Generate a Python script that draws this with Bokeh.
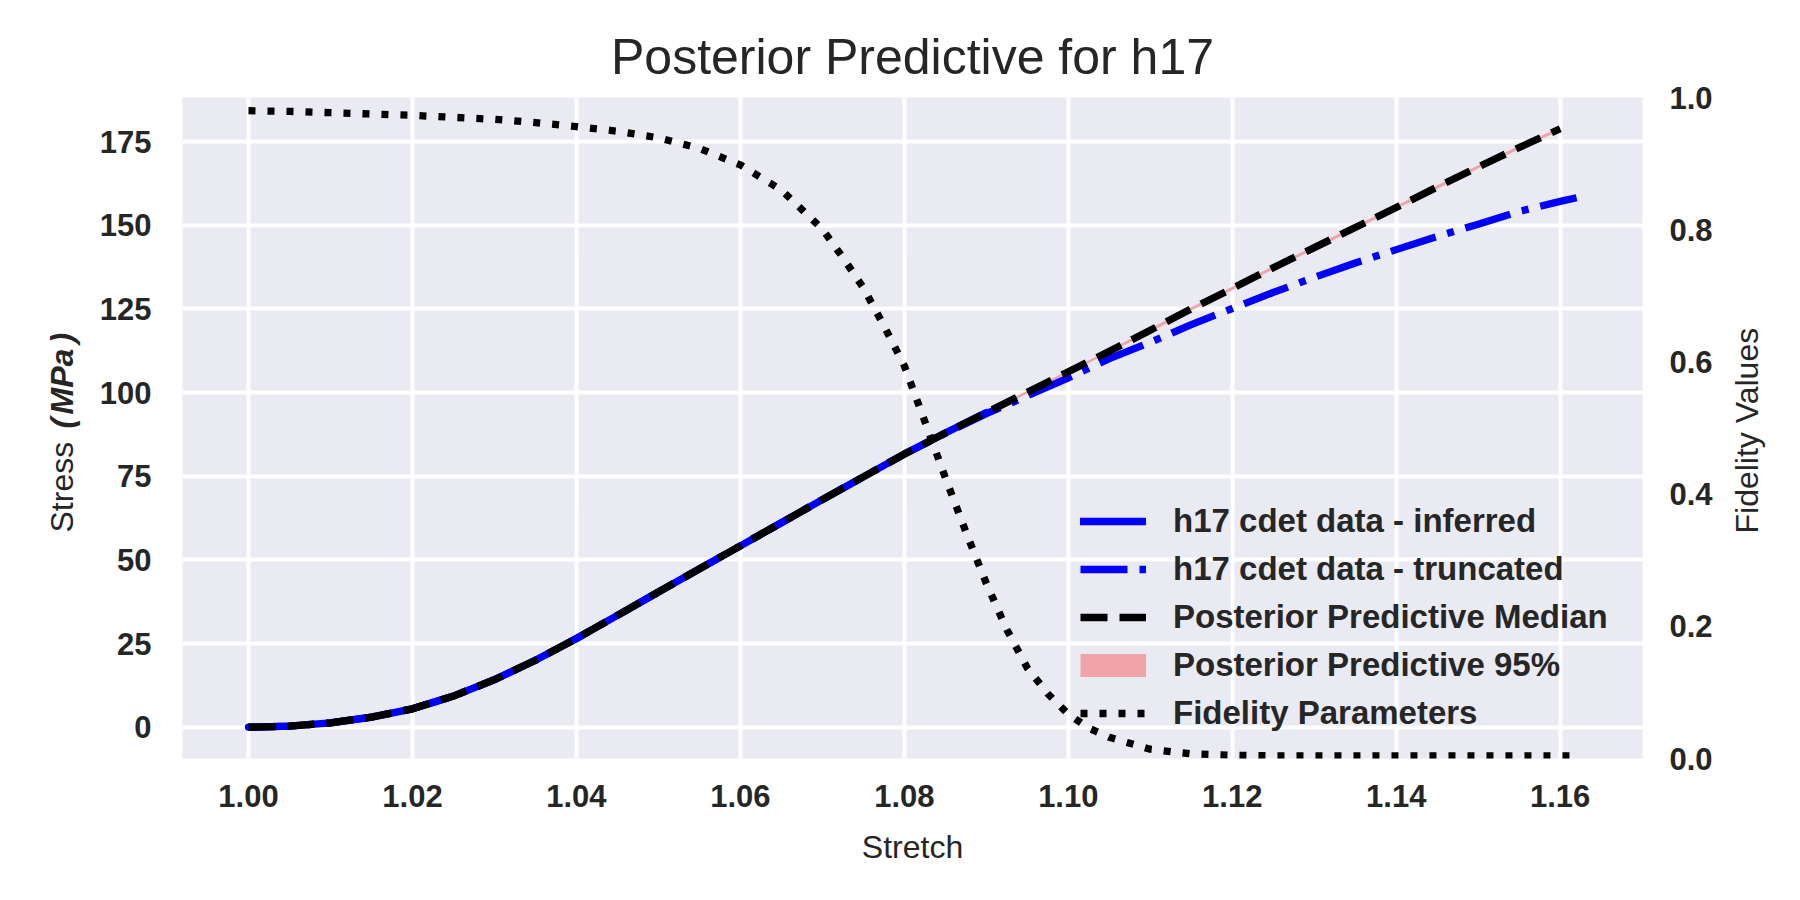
import math
from bokeh.plotting import figure
from bokeh.layouts import row
from bokeh.models import (Range1d, LinearAxis, FixedTicker, NumeralTickFormatter,
                          Legend, LegendItem)
from bokeh.core.properties import value
from bokeh.embed import file_html
from bokeh.resources import INLINE

# ---------------- data ----------------
inferred_stretch = [1.000, 1.005, 1.010, 1.015, 1.020, 1.025, 1.030, 1.035, 1.040, 1.045,
                    1.050, 1.055, 1.060, 1.065, 1.070, 1.075, 1.080, 1.085, 1.090]
inferred_stress = [0.0, 0.3, 1.3, 3.0, 5.5, 9.3, 14.2, 20.0, 26.5, 33.4,
                   40.4, 47.3, 54.2, 61.1, 68.0, 74.8, 81.6, 87.9, 94.0]

truncated_stretch = [1.000, 1.005, 1.010, 1.015, 1.020, 1.025, 1.030, 1.035, 1.040, 1.045,
                     1.050, 1.055, 1.060, 1.065, 1.070, 1.075, 1.080, 1.085, 1.090, 1.095,
                     1.100, 1.105, 1.110, 1.115, 1.120, 1.125, 1.130, 1.135, 1.140, 1.145,
                     1.150, 1.155, 1.160, 1.162]
truncated_stress = [0.0, 0.3, 1.3, 3.0, 5.5, 9.3, 14.2, 20.0, 26.5, 33.4,
                    40.4, 47.3, 54.2, 61.1, 68.0, 74.8, 81.6, 87.8, 93.7, 99.0,
                    104.4, 110.1, 115.0, 120.3, 125.1, 129.9, 134.4, 138.7, 142.7, 146.6,
                    150.3, 154.1, 157.1, 158.2]

median_stretch = [1.000, 1.005, 1.010, 1.015, 1.020, 1.025, 1.030, 1.035, 1.040, 1.045,
                  1.050, 1.055, 1.060, 1.065, 1.070, 1.075, 1.080, 1.085, 1.090, 1.095,
                  1.100, 1.105, 1.110, 1.115, 1.120, 1.125, 1.130, 1.135, 1.140, 1.145,
                  1.150, 1.155, 1.160]
median_stress = [0.0, 0.3, 1.3, 3.0, 5.5, 9.3, 14.2, 20.0, 26.5, 33.4,
                 40.4, 47.3, 54.2, 61.1, 68.0, 74.8, 81.6, 87.9, 94.0, 100.1,
                 106.2, 112.3, 118.6, 125.0, 131.1, 137.3, 143.3, 149.3, 155.3, 161.4,
                 167.4, 173.2, 178.8]
band_lower = [-0.3, 0.0, 1.0, 2.6, 5.1, 8.9, 13.8, 19.6, 26.1, 33.0,
              40.0, 46.9, 53.8, 60.7, 67.6, 74.4, 81.2, 87.5, 93.6, 99.7,
              105.8, 111.9, 118.1, 124.5, 130.6, 136.8, 142.8, 148.8, 154.8, 160.9,
              166.9, 172.7, 178.3]
band_upper = [0.3, 0.6, 1.6, 3.4, 5.9, 9.7, 14.6, 20.4, 26.9, 33.8,
              40.8, 47.7, 54.6, 61.5, 68.4, 75.2, 82.0, 88.3, 94.4, 100.5,
              106.6, 112.7, 119.1, 125.5, 131.6, 137.8, 143.8, 149.8, 155.8, 161.9,
              167.9, 173.7, 179.3]

fidelity_stretch = [1.000, 1.005, 1.010, 1.015, 1.020, 1.025, 1.030, 1.035, 1.040, 1.045,
                    1.050, 1.055, 1.060, 1.065, 1.070, 1.0725, 1.075, 1.0775, 1.080, 1.0825,
                    1.085, 1.0875, 1.090, 1.0925, 1.095, 1.0975, 1.100, 1.1025, 1.105, 1.110,
                    1.115, 1.120, 1.125, 1.130, 1.140, 1.150, 1.160, 1.162]
fidelity_values = [0.980, 0.979, 0.977, 0.975, 0.973, 0.970, 0.967, 0.962, 0.956, 0.949,
                   0.939, 0.923, 0.898, 0.860, 0.801, 0.758, 0.712, 0.655, 0.594, 0.510,
                   0.425, 0.343, 0.265, 0.195, 0.137, 0.098, 0.067, 0.046, 0.032, 0.014,
                   0.007, 0.005, 0.004, 0.004, 0.004, 0.004, 0.004, 0.004]

x_ticks = [1.00, 1.02, 1.04, 1.06, 1.08, 1.10, 1.12, 1.14, 1.16]
stress_ticks = [0, 25, 50, 75, 100, 125, 150, 175]
fidelity_ticks = [0.0, 0.2, 0.4, 0.6, 0.8, 1.0]

legend_labels = ["h17 cdet data - inferred", "h17 cdet data - truncated",
                 "Posterior Predictive Median", "Posterior Predictive 95%",
                 "Fidelity Parameters"]

# ---------------- styling ----------------
FONT = "Liberation Sans"
TEXT = "#262626"
LW = 7.3
BAND = "#F0A3A8"
PAGE_W, PAGE_H = 1800, 900
WL, WR = 95, 78                      # side strips holding the rotated axis titles
FL, FT, FW, FH = 182, 97, 1460, 661  # frame position / size on the page
FB = PAGE_H - FT - FH

p = figure(frame_width=FW, frame_height=FH,
           min_border_left=FL - WL, min_border_right=PAGE_W - FL - FW - WR,
           min_border_top=FT, min_border_bottom=FB,
           x_range=Range1d(0.99195, 1.17004), y_range=Range1d(-9.35, 188.15),
           output_backend="svg", toolbar_location=None,
           background_fill_color="#EAEAF2", border_fill_color="white",
           outline_line_color=None)
p.extra_y_ranges = {"fid": Range1d(0, 1), "key": Range1d(-3, -2)}

p.title.text = "Posterior Predictive for h17"
p.title.align = "center"
p.title.text_font = FONT
p.title.text_font_size = "50px"
p.title.text_font_style = "normal"
p.title.text_color = TEXT
p.title.standoff = 26

xa = p.xaxis[0]
ya = p.yaxis[0]
xa.ticker = FixedTicker(ticks=x_ticks)
xa.formatter = NumeralTickFormatter(format="0.00")
ya.ticker = FixedTicker(ticks=stress_ticks)
ya.formatter = NumeralTickFormatter(format="0")
ra = LinearAxis(y_range_name="fid", ticker=FixedTicker(ticks=fidelity_ticks),
                formatter=NumeralTickFormatter(format="0.0"))
p.add_layout(ra, "right")

for ax in (xa, ya, ra):
    ax.axis_line_color = None
    ax.major_tick_line_color = None
    ax.minor_tick_line_color = None
    ax.major_tick_out = 0
    ax.major_tick_in = 0
    ax.major_label_text_font = FONT
    ax.major_label_text_font_style = "bold"
    ax.major_label_text_font_size = "31px"
    ax.major_label_text_color = TEXT
xa.major_label_standoff = 26
ya.major_label_standoff = 31
ra.major_label_standoff = 27

xa.axis_label = "Stretch"
xa.axis_label_text_font = FONT
xa.axis_label_text_font_style = "normal"
xa.axis_label_text_font_size = "32px"
xa.axis_label_text_color = TEXT
xa.axis_label_standoff = 19

p.xgrid.ticker = FixedTicker(ticks=x_ticks)
p.ygrid.ticker = FixedTicker(ticks=stress_ticks)
for g in (p.xgrid, p.ygrid):
    g.grid_line_color = "white"
    g.grid_line_width = 4

# ---------------- glyphs ----------------
p.varea(x=median_stretch, y1=band_lower, y2=band_upper, fill_color=BAND, fill_alpha=1.0)
r_inf = p.line(inferred_stretch, inferred_stress, line_color="blue", line_width=LW,
               line_cap="round", line_join="round")
r_tr = p.line(truncated_stretch, truncated_stress, line_color="blue", line_width=LW,
              line_dash="47 12 7 12", line_join="round")
r_med = p.line(median_stretch, median_stress, line_color="black", line_width=LW,
               line_dash="27 12", line_join="round")
# legend key for the 95% band (drawn on a range that keeps it out of view)
r_band_key = p.line(median_stretch, band_upper, y_range_name="key",
                    line_color=BAND, line_width=23)
r_fid = p.line(fidelity_stretch, fidelity_values, y_range_name="fid", line_color="black",
               line_width=LW, line_dash="7 12", line_join="round")

legend = Legend(items=[LegendItem(label=legend_labels[0], renderers=[r_inf]),
                       LegendItem(label=legend_labels[1], renderers=[r_tr]),
                       LegendItem(label=legend_labels[2], renderers=[r_med]),
                       LegendItem(label=legend_labels[3], renderers=[r_band_key]),
                       LegendItem(label=legend_labels[4], renderers=[r_fid])],
                location=(898, 24), orientation="vertical",
                glyph_width=66, glyph_height=42, label_height=42, spacing=6,
                padding=0, margin=0, label_standoff=27,
                background_fill_alpha=0, border_line_alpha=0,
                label_text_font=FONT, label_text_font_style="bold",
                label_text_font_size="33px", label_text_color=TEXT)
p.add_layout(legend)


# ---------------- side strips with the rotated axis titles ----------------
def strip(width):
    # same vertical structure as the main figure, so page y maps directly
    f = figure(frame_width=width, frame_height=FH, min_border_left=0, min_border_right=0,
               min_border_top=FT, min_border_bottom=FB,
               x_range=Range1d(0, width), y_range=Range1d(FB, PAGE_H - FT),
               x_axis_type=None, y_axis_type=None, output_backend="svg",
               toolbar_location=None, outline_line_color=None,
               background_fill_color="white", border_fill_color="white")
    f.grid.visible = False
    return f


def vtext(f, x, page_y, txt, style):
    f.text(x=[x], y=[PAGE_H - page_y], text=[txt], angle=math.pi / 2,
           text_align=value("left"), text_baseline=value("alphabetic"),
           text_font=value(FONT), text_font_size=value("32px"),
           text_font_style=value(style), text_color=TEXT)


left = strip(WL)
LX = 61.5
vtext(left, LX, 532, "Stress", "normal")
vtext(left, LX, 428, "(", "bold italic")
vtext(left, LX, 414, "MPa", "bold italic")
vtext(left, LX, 343, ")", "bold italic")

right = strip(WR)
vtext(right, 1746.5 - (PAGE_W - WR), 533, "Fidelity Values", "normal")

layout = row(left, p, right, spacing=0)
open("out.html", "w").write(file_html(layout, INLINE))
